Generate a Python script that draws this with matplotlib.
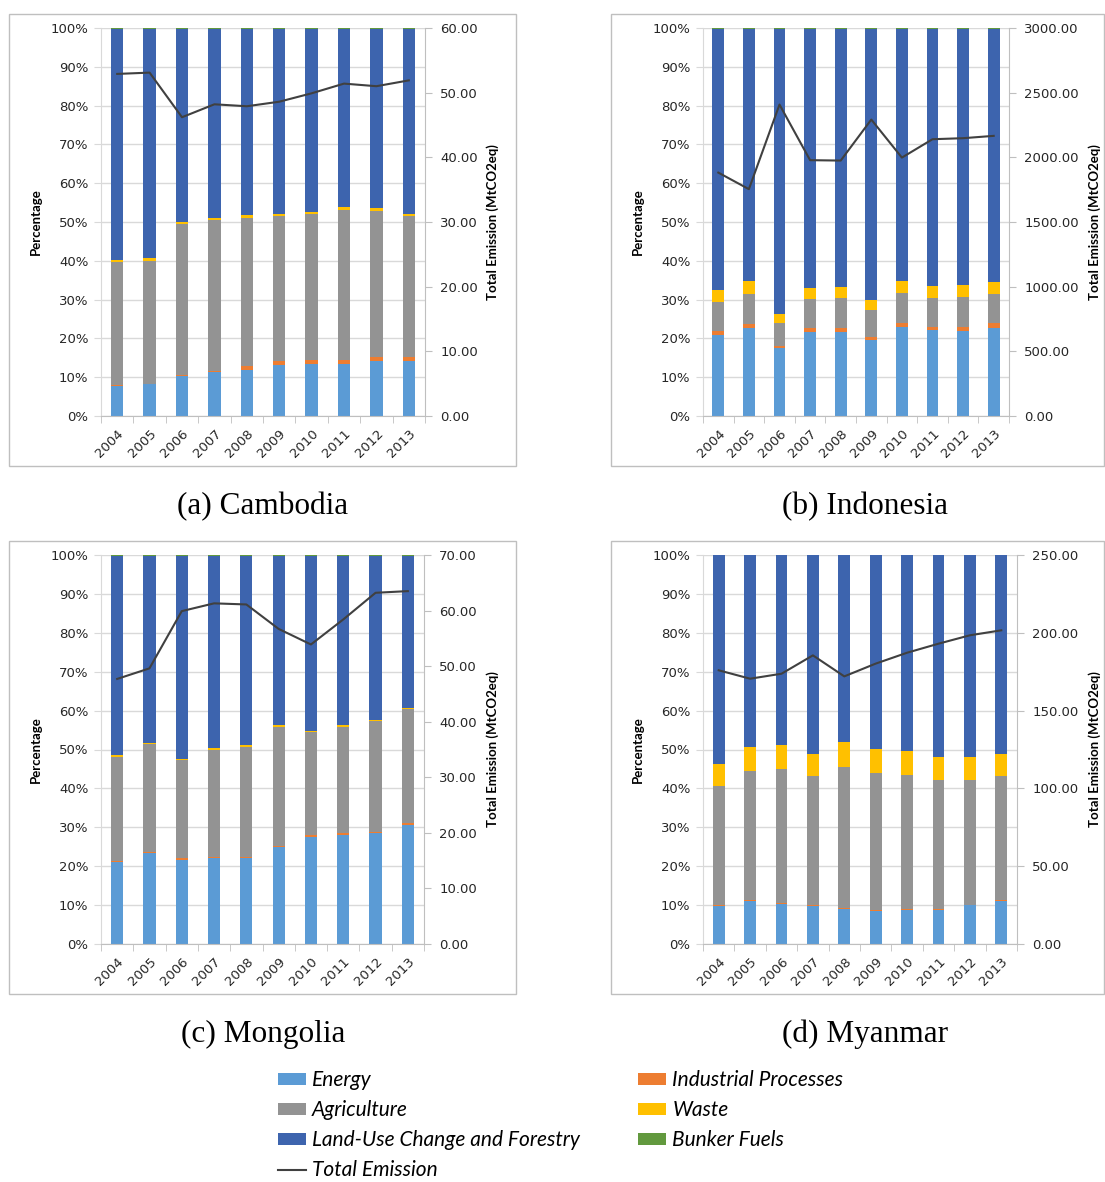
"""
Sectoral GHG emission shares (stacked %) with total emission line, 2004-2013,
for Cambodia, Indonesia, Mongolia and Myanmar.
"""
import numpy as np
import matplotlib; matplotlib.use("Agg"); import matplotlib.pyplot as plt
from matplotlib.patches import Rectangle, Patch
from matplotlib.lines import Line2D
from matplotlib.ticker import FuncFormatter, MultipleLocator

years = [str(y) for y in range(2004, 2014)]
sectors = ["Energy", "Industrial Processes", "Agriculture", "Waste",
           "Land-Use Change and Forestry", "Bunker Fuels"]
colors = {"Energy": "#5b9bd5", "Industrial Processes": "#ed7d31",
          "Agriculture": "#939393", "Waste": "#ffc000",
          "Land-Use Change and Forestry": "#3d64ae", "Bunker Fuels": "#62993e"}

# shares of total emission (%), stacked bottom to top in `sectors` order
khm_energy = [7.8, 8.2, 10.4, 11.4, 11.9, 13.1, 13.4, 13.4, 14.1, 14.1]
khm_industry = [0.3, 0.1, 0.1, 0.3, 0.9, 1.0, 1.1, 1.1, 1.1, 1.0]
khm_agri = [31.5, 31.7, 38.9, 38.7, 38.3, 37.4, 37.5, 38.7, 37.7, 36.4]
khm_waste = [0.7, 0.7, 0.6, 0.6, 0.6, 0.6, 0.6, 0.6, 0.6, 0.6]
khm_lucf = [59.5, 59.1, 49.8, 48.8, 48.1, 47.7, 47.2, 46.0, 46.3, 47.7]
khm_bunker = [0.2] * 10
khm_total = [52.9, 53.1, 46.2, 48.2, 47.9, 48.6, 49.9, 51.4, 51.0, 51.9]

idn_energy = [20.9, 22.6, 17.4, 21.7, 21.7, 19.6, 23.0, 22.1, 21.9, 22.7]
idn_industry = [1.0, 1.0, 0.7, 0.9, 1.0, 0.8, 1.0, 0.9, 1.1, 1.2]
idn_agri = [7.4, 7.9, 5.9, 7.5, 7.6, 6.8, 7.8, 7.5, 7.7, 7.6]
idn_waste = [3.1, 3.4, 2.4, 2.9, 3.0, 2.7, 3.1, 3.0, 3.0, 3.1]
idn_lucf = [67.4, 64.9, 73.4, 66.8, 66.5, 69.9, 64.9, 66.3, 66.1, 65.2]
idn_bunker = [0.2] * 10
idn_total = [1882, 1754, 2408, 1978, 1975, 2292, 1998, 2140, 2148, 2166]

mng_energy = [21.0, 23.4, 21.7, 22.1, 22.1, 24.9, 27.6, 28.0, 28.5, 30.7]
mng_industry = [0.3, 0.3, 0.3, 0.3, 0.3, 0.4, 0.4, 0.5, 0.4, 0.4]
mng_agri = [26.9, 27.6, 25.2, 27.5, 28.3, 30.6, 26.4, 27.4, 28.3, 29.2]
mng_waste = [0.4] * 10
mng_lucf = [51.2, 48.1, 52.2, 49.5, 48.7, 43.5, 45.0, 43.5, 42.2, 39.1]
mng_bunker = [0.2] * 10
mng_total = [47.7, 49.6, 59.9, 61.3, 61.1, 56.7, 53.9, 58.4, 63.2, 63.5]

mmr_energy = [9.8, 11.0, 10.4, 9.8, 9.1, 8.5, 8.7, 8.7, 9.9, 11.0]
mmr_industry = [0.2] * 10
mmr_agri = [30.5, 33.2, 34.4, 33.1, 36.1, 35.3, 34.5, 33.3, 32.1, 31.9]
mmr_waste = [5.9, 6.2, 6.1, 5.8, 6.6, 6.1, 6.1, 6.0, 5.8, 5.8]
mmr_lucf = [53.5, 49.3, 48.8, 51.0, 47.9, 49.8, 50.4, 51.7, 51.9, 51.0]
mmr_bunker = [0.1] * 10
mmr_total = [175.9, 170.5, 173.7, 185.5, 172.0, 180.2, 187.2, 193.0, 198.4, 201.6]

W, H = 1105, 1182
GRID, AXC = "#d9d9d9", "#bfbfbf"

# (caption, shares, totals, right max, right step, axes px box, frame px box, caption centre)
panels = [
    ("(a) Cambodia", [khm_energy, khm_industry, khm_agri, khm_waste, khm_lucf, khm_bunker],
     khm_total, 60, 10, (101, 28, 425, 416), (9, 14, 516, 466), (263, 507)),
    ("(b) Indonesia", [idn_energy, idn_industry, idn_agri, idn_waste, idn_lucf, idn_bunker],
     idn_total, 3000, 500, (703, 28, 1009, 416), (611, 14, 1104, 466), (865, 507)),
    ("(c) Mongolia", [mng_energy, mng_industry, mng_agri, mng_waste, mng_lucf, mng_bunker],
     mng_total, 70, 10, (101, 555, 424, 944), (9, 541, 516, 994), (263, 1034)),
    ("(d) Myanmar", [mmr_energy, mmr_industry, mmr_agri, mmr_waste, mmr_lucf, mmr_bunker],
     mmr_total, 250, 50, (703, 555, 1017, 944), (611, 541, 1104, 994), (865, 1034)),
]

fig = plt.figure(figsize=(W / 100, H / 100), dpi=100)


def rect(x0, y0, x1, y1):
    return [x0 / W, 1 - y1 / H, (x1 - x0) / W, (y1 - y0) / H]


for caption, shares, total, rmax, rstep, abox, fbox, cap in panels:
    fx0, fy0, fx1, fy1 = fbox
    fig.patches.append(Rectangle((fx0 / W, 1 - fy1 / H), (fx1 - fx0) / W, (fy1 - fy0) / H,
                                 transform=fig.transFigure, fill=False, ec=AXC, lw=1.0))

    ax = fig.add_axes(rect(*abox))
    x = np.arange(len(years))
    bottom = np.zeros(len(years))
    for name, vals in zip(sectors, shares):
        ax.bar(x, vals, 0.38, bottom=bottom, color=colors[name], lw=0, zorder=2)
        bottom += np.array(vals)

    ax.set_xlim(-0.5, len(years) - 0.5)
    ax.set_ylim(0, 100)
    ax.yaxis.set_major_locator(MultipleLocator(10))
    ax.yaxis.set_major_formatter(FuncFormatter(lambda v, _: f"{v:.0f}%"))
    ax.grid(axis="y", color=GRID, lw=1.0, zorder=0)
    ax.set_axisbelow(True)
    ax.set_xticks(x)
    ax.set_xticklabels(years, rotation=45, ha="right", rotation_mode="anchor")
    ax.set_xticks(np.arange(len(years) + 1) - 0.5, minor=True)
    ax.tick_params(axis="x", which="major", length=0, pad=8, labelsize=9.5, labelcolor="#262626")
    ax.tick_params(axis="x", which="minor", length=5, color=AXC)
    ax.tick_params(axis="y", length=5, color=GRID, labelsize=9.5, labelcolor="#262626", pad=4)
    for s in ("top", "right"):
        ax.spines[s].set_visible(False)
    ax.spines["left"].set_color(GRID)
    ax.spines["bottom"].set_color(AXC)

    tw = ax.twinx()
    tw.plot(x, total, color="#404040", lw=1.5, zorder=3)
    tw.set_ylim(0, rmax)
    tw.yaxis.set_major_locator(MultipleLocator(rstep))
    tw.yaxis.set_major_formatter(FuncFormatter(lambda v, _: f"{v:.2f}"))
    tw.tick_params(axis="y", length=5, color=AXC, labelsize=9.5, labelcolor="#262626", pad=6)
    for s in ("top", "left", "bottom"):
        tw.spines[s].set_visible(False)
    tw.spines["right"].set_color(AXC)

    ax0, ay0, ax1, ay1 = abox
    mid = 1 - (ay0 + ay1) / 2 / H
    fig.text((ax0 - 65) / W, mid, "Percentage", rotation=90, ha="center", va="center",
             fontsize=9.5, fontweight="bold", family="Lato")
    rlab_x = {60: 493, 3000: 1095, 70: 493, 250: 1095}[rmax]
    fig.text(rlab_x / W, mid, "Total Emission (MtCO2eq)", rotation=90, ha="center", va="center",
             fontsize=9.5, fontweight="bold", family="Lato")
    fig.text(cap[0] / W, 1 - cap[1] / H, caption, ha="center", va="center",
             fontsize=22.5, family="Liberation Serif")

# legend: column-major, 4 rows by 2 columns
order = ["Energy", "Agriculture", "Land-Use Change and Forestry", None,
         "Industrial Processes", "Waste", "Bunker Fuels"]
handles, labels = [], []
for name in order:
    if name is None:
        handles.append(Line2D([], [], color="#404040", lw=1.5))
        labels.append("Total Emission")
    else:
        handles.append(Patch(color=colors[name], lw=0))
        labels.append(name)
fig.legend(handles, labels, ncol=2, loc="upper left", bbox_to_anchor=(265 / W, 1 - 1058 / H),
           frameon=False, handlelength=1.35, handleheight=0.55, handletextpad=0.3,
           labelspacing=0.48, columnspacing=2.8, borderaxespad=0.2,
           prop={"family": "Lato", "style": "italic", "size": 15})

fig.savefig("out.png", dpi=100)
